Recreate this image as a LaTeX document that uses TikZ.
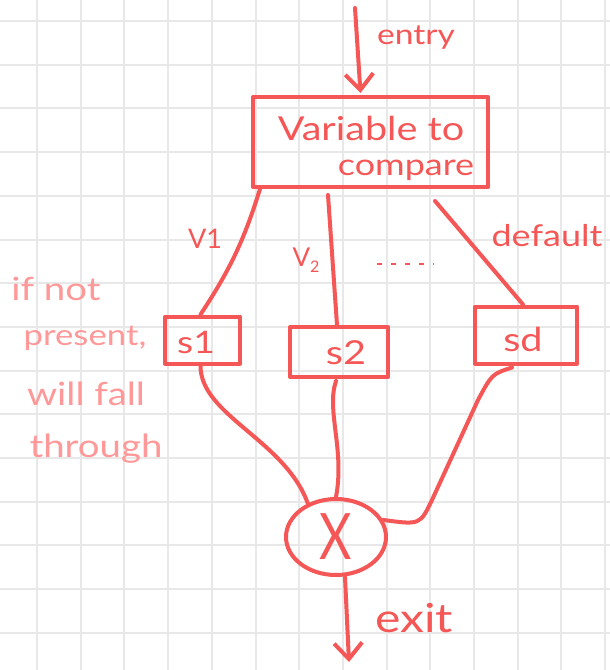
\documentclass[tikz,border=0pt]{standalone}
\usepackage{fontspec}
\setmainfont{Lato}
\newfontfamily\handfont[FakeStretch=1.2]{Lato}
\usetikzlibrary{arrows.meta,shapes.geometric,calc}
\definecolor{ink}{RGB}{245,86,86}
\definecolor{note}{RGB}{255,152,152}
\definecolor{gridc}{RGB}{232,232,232}
\begin{document}
\begin{tikzpicture}[x=1pt,y=-1pt,
  stroke/.style={draw=ink,line width=4pt,line cap=round,line join=round},
  boxn/.style={stroke,rectangle,inner sep=0pt},
  lbl/.style={text=ink,inner sep=0pt,anchor=base},
  notetxt/.style={text=note,inner sep=0pt,anchor=base,font=\handfont\fontsize{32}{34}\selectfont},
  tip/.style={-{Straight Barb[length=16pt,width=28pt]}},
  gridline/.style={draw=gridc,line width=2pt}]
\fill[white] (0,0) rectangle (610,670);
\useasboundingbox (0,0) rectangle (610,670);
\foreach \i in {0,...,13} \draw[gridline] ({37+43.7*\i},0) -- ({37+43.7*\i},670);
\foreach \j in {0,...,14} \draw[gridline] (0,{21+43.7*\j}) -- (610,{21+43.7*\j});

% boxes
\node[boxn,minimum width=235pt,minimum height=90pt] (main) at (370.5,142) {};
\node[lbl,font=\handfont\fontsize{33}{36}\selectfont] (t1) at (371,140) {Variable to};
\node[lbl,font=\handfont\fontsize{30}{36}\selectfont] (t2) at (406,175) {compare};
\node[boxn,minimum width=75pt,minimum height=47pt] (s1) at (202.5,340) {};
\node[boxn,minimum width=98pt,minimum height=50pt] (s2) at (339,352) {};
\node[boxn,minimum width=102pt,minimum height=57pt] (sd) at (526,335) {};
\node[lbl,font=\handfont\fontsize{31}{34}\selectfont] (s1t) at (196,353) {s1};
\node[lbl,font=\handfont\fontsize{33}{34}\selectfont] (s2t) at (346,364) {s2};
\node[lbl,font=\handfont\fontsize{33}{34}\selectfont] (sdt) at (523,351) {sd};
\node[stroke,ellipse,minimum width=100pt,minimum height=76pt,inner sep=0pt,text=ink,font=\fontsize{64}{64}\selectfont] (merge) at (336,537) {\scalebox{0.78}[1]{X}};

% entry / exit
\coordinate (entry) at (355,8);
\draw[stroke,tip] (entry) -- ($(main.north)+(-10,-2)$);
\coordinate (exitpt) at (349,662);
\draw[stroke,tip] ($(merge.south)+(9,0)$) -- (exitpt);

% branches
\draw[stroke] ($(main.south west)+(9,0)$) to[bend left=8] ($(s1.north)+(-2,0)$);
\draw[stroke] ($(main.south west)+(77,6)$) -- ($(s2.north)+(-2,0)$);
\draw[stroke] ($(main.south east)+(-55,12)$) -- ($(sd.north)+(-3,0)$);

% merges
\draw[stroke] ($(s1.south)+(-2,0)$) .. controls (200,415) and (285,440) .. (merge.130);
\draw[stroke] ($(s2.south)+(-3,2)$) .. controls (326,410) and (345,450) .. (merge.north);
\draw[stroke] ($(sd.south)+(-14,2)$) .. controls (492,374) .. (478,400) -- (432,500) .. controls (420,525) .. (merge.20);

% labels
\node[lbl,font=\handfont\fontsize{28}{32}\selectfont] (entrylbl) at (416,44) {entry};
\node[lbl,font=\fontsize{27}{28}\selectfont] (v1lbl) at (205,248) {V1};
\node[lbl,font=\fontsize{26}{28}\selectfont] (v2lbl) at (306,266) {V\raisebox{-6pt}{\fontsize{16}{16}\selectfont 2}};
\node[lbl,font=\handfont\fontsize{30}{32}\selectfont] (deflbl) at (547,246) {default};
\node[lbl,font=\handfont\fontsize{40}{42}\selectfont] (exitlbl) at (414,632) {exit};
\coordinate (dotsa) at (377,264);
\coordinate (dotsb) at (434,264);
\draw[draw=ink,line width=2pt,dash pattern=on 5pt off 9pt] (dotsa) -- (dotsb);

% note
\node[notetxt] (n1) at (56,300) {if not};
\node[notetxt,font=\handfont\fontsize{29}{34}\selectfont] (n2) at (85,345) {present,};
\node[notetxt] (n3) at (86,405) {will fall};
\node[notetxt] (n4) at (96,457) {through};
\end{tikzpicture}
\end{document}
